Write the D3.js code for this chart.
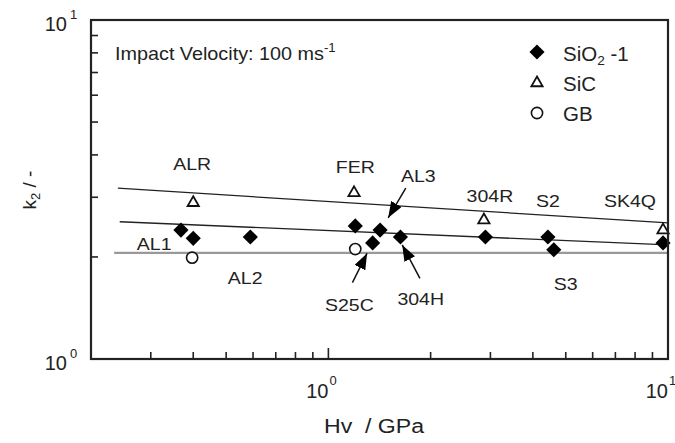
<!DOCTYPE html>
<html>
<head>
<meta charset="utf-8">
<script src="https://cdn.jsdelivr.net/npm/d3@7"></script>
<style>
  body { margin: 0; background: #fff; }
  svg text { font-family: "Liberation Sans", Arial, Helvetica, sans-serif; fill: #222; }
</style>
</head>
<body>
<div id="chart"></div>
<script>
// k2 vs Vickers hardness, impact velocity 100 m/s

// SiO2-1 particles (filled diamonds)
const sio2Hv = [0.368, 0.40, 0.589, 1.20, 1.42, 1.35, 1.63, 2.90, 4.43, 4.61, 9.67];
const sio2K2 = [2.40, 2.27, 2.29, 2.47, 2.40, 2.20, 2.29, 2.29, 2.29, 2.10, 2.20];

// SiC particles (open triangles)
const sicHv = [0.40, 1.19, 2.87, 9.67];
const sicK2 = [2.89, 3.09, 2.57, 2.40];

// GB particles (open circles)
const gbHv = [0.397, 1.20];
const gbK2 = [1.99, 2.11];

// fitted lines: [Hv start, Hv end], [k2 start, k2 end]
const sicFitHv = [0.24, 10];
const sicFitK2 = [3.19, 2.52];
const sio2FitHv = [0.243, 10];
const sio2FitK2 = [2.54, 2.17];
const gbFitHv = [0.234, 10];
const gbFitK2 = [2.055, 2.055];

// material labels, positioned in data units (centre / baseline)
const labelText = ["ALR", "AL1", "AL2", "FER", "AL3", "304R", "S2", "SK4Q", "S3", "S25C", "304H"];
const labelHv   = [0.397, 0.307, 0.569, 1.20, 1.84, 2.99, 4.43, 7.73, 5.0, 1.153, 1.87];
const labelK2   = [3.61, 2.10, 1.66, 3.54, 3.33, 2.90, 2.81, 2.81, 1.60, 1.386, 1.44];

// arrows from label to point
const arrowFromHv = [1.69, 1.177, 1.86];
const arrowFromK2 = [3.19, 1.68, 1.73];
const arrowToHv   = [1.50, 1.30, 1.65];
const arrowToK2   = [2.61, 2.05, 2.17];

const xMinor = [0.3, 0.4, 0.5, 0.6, 0.7, 0.8, 0.9, 2, 3, 4, 5, 6, 7, 8, 9];
const xMajor = [1, 10];
const yMinor = [2, 3, 4, 5, 6, 7, 8, 9];

const legendNames = ["SiO2-1", "SiC", "GB"];

const W = 675, H = 443;
const margin = {top: 20, right: 7, bottom: 84, left: 91};
const width = W - margin.left - margin.right;
const height = H - margin.top - margin.bottom;

const svg = d3.select("#chart").append("svg")
    .attr("width", W)
    .attr("height", H);

const g = svg.append("g")
    .attr("transform", `translate(${margin.left},${margin.top})`);

const x = d3.scaleLog().domain([0.2, 10]).range([0, width]);
const y = d3.scaleLog().domain([1, 10]).range([height, 0]);

// helper for horizontally stretched text (the scan is a bit wide)
function addText(parent, px, py, str, size, sx, anchor) {
    return parent.append("text")
        .attr("transform", `translate(${px},${py}) scale(${sx},1)`)
        .attr("text-anchor", anchor || "start")
        .style("font-size", size + "px")
        .text(str);
}

// ticks pointing inward
const ink = "#222";
g.selectAll(".xminor").data(xMinor).enter().append("line")
    .attr("x1", d => x(d)).attr("x2", d => x(d))
    .attr("y1", height).attr("y2", height - 7)
    .attr("stroke", ink).attr("stroke-width", 1.6);
g.selectAll(".xmajor").data(xMajor).enter().append("line")
    .attr("x1", d => x(d)).attr("x2", d => x(d))
    .attr("y1", height).attr("y2", height - 11)
    .attr("stroke", ink).attr("stroke-width", 1.6);
g.selectAll(".yminor").data(yMinor).enter().append("line")
    .attr("y1", d => y(d)).attr("y2", d => y(d))
    .attr("x1", 0).attr("x2", 7)
    .attr("stroke", ink).attr("stroke-width", 1.6);

// tick labels 10^n
[1, 10].forEach((v, i) => {
    addText(g, x(v), height + 39, "10", 20, 1, "end");
    addText(g, x(v) + 1, height + 26, String(i), 13, 1, "start");
});
[1, 10].forEach((v, i) => {
    addText(g, -24, y(v) + 11, "10", 20, 1, "end");
    addText(g, -21, y(v) - 1, String(i), 13, 1, "start");
});

// fitted lines
const line = d3.line().x(d => x(d[0])).y(d => y(d[1]));
g.append("path")
    .attr("d", line(d3.zip(gbFitHv, gbFitK2)))
    .attr("fill", "none").attr("stroke", "#999").attr("stroke-width", 2.2);
g.append("path")
    .attr("d", line(d3.zip(sicFitHv, sicFitK2)))
    .attr("fill", "none").attr("stroke", "#222").attr("stroke-width", 1.3);
g.append("path")
    .attr("d", line(d3.zip(sio2FitHv, sio2FitK2)))
    .attr("fill", "none").attr("stroke", "#222").attr("stroke-width", 1.3);

// symbols
const diamond = d3.symbol().type(d3.symbolSquare).size(115);
const tri = d3.symbol().type(d3.symbolTriangle).size(55);

g.selectAll(".sio2").data(d3.zip(sio2Hv, sio2K2)).enter().append("path")
    .attr("class", "sio2")
    .attr("d", diamond)
    .attr("transform", d => `translate(${x(d[0])},${y(d[1])}) rotate(45)`)
    .attr("fill", "#000");

g.selectAll(".sic").data(d3.zip(sicHv, sicK2)).enter().append("path")
    .attr("class", "sic")
    .attr("d", tri)
    .attr("transform", d => `translate(${x(d[0])},${y(d[1])})`)
    .attr("fill", "#fff").attr("stroke", "#111").attr("stroke-width", 1.8);

g.selectAll(".gb").data(d3.zip(gbHv, gbK2)).enter().append("circle")
    .attr("class", "gb")
    .attr("cx", d => x(d[0])).attr("cy", d => y(d[1]))
    .attr("r", 5.6)
    .attr("fill", "#fff").attr("stroke", "#111").attr("stroke-width", 1.6);

// arrows
svg.append("defs").append("marker")
    .attr("id", "head")
    .attr("markerUnits", "userSpaceOnUse")
    .attr("viewBox", "0 0 16 12")
    .attr("refX", 16).attr("refY", 6)
    .attr("markerWidth", 16).attr("markerHeight", 12)
    .attr("orient", "auto")
    .append("path").attr("d", "M0,0 L16,6 L0,12 Z").attr("fill", "#000");

g.selectAll(".arrow").data(d3.range(arrowFromHv.length)).enter().append("line")
    .attr("x1", i => x(arrowFromHv[i])).attr("y1", i => y(arrowFromK2[i]))
    .attr("x2", i => x(arrowToHv[i])).attr("y2", i => y(arrowToK2[i]))
    .attr("stroke", "#111").attr("stroke-width", 1.5)
    .attr("marker-end", "url(#head)");

// material labels
labelText.forEach((t, i) => {
    addText(g, x(labelHv[i]), y(labelK2[i]), t, 16, 1.22, "middle");
});

// frame
g.append("rect")
    .attr("width", width).attr("height", height)
    .attr("fill", "none").attr("stroke", "#222").attr("stroke-width", 2.2);

// velocity note
const note = g.append("text")
    .attr("transform", `translate(24,40) scale(1.1,1)`)
    .style("font-size", "18px");
note.append("tspan").text("Impact Velocity: 100 ms");
note.append("tspan").attr("dy", -8).style("font-size", "12px").text("-1");

// legend
const lg = g.append("g").attr("transform", "translate(446,32)");
lg.append("path").attr("d", diamond).attr("transform", "rotate(45)").attr("fill", "#000");
lg.append("path").attr("d", tri).attr("transform", "translate(0,31)")
    .attr("fill", "#fff").attr("stroke", "#111").attr("stroke-width", 1.8);
lg.append("circle").attr("cy", 61).attr("r", 5.6)
    .attr("fill", "#fff").attr("stroke", "#111").attr("stroke-width", 1.6);

const l0 = lg.append("text")
    .attr("transform", "translate(26,9) scale(1.05,1)")
    .style("font-size", "19.5px");
l0.append("tspan").text("SiO");
l0.append("tspan").attr("dy", 4).style("font-size", "13px").text("2");
l0.append("tspan").attr("dy", -4).text(" -1");
addText(lg, 26, 39, legendNames[1], 19.5, 1.05, "start");
addText(lg, 26, 69, legendNames[2], 19.5, 1.05, "start");

// axis titles
addText(svg, 374, 433, "Hv\u00a0\u00a0/ GPa", 21, 1.1, "middle");

const yt = svg.append("text")
    .attr("transform", "translate(36,190) rotate(-90)")
    .attr("text-anchor", "middle")
    .style("font-size", "19px");
yt.append("tspan").text("k");
yt.append("tspan").attr("dy", 4).style("font-size", "13px").text("2");
yt.append("tspan").attr("dy", -4).text(" / -");
</script>
</body>
</html>
